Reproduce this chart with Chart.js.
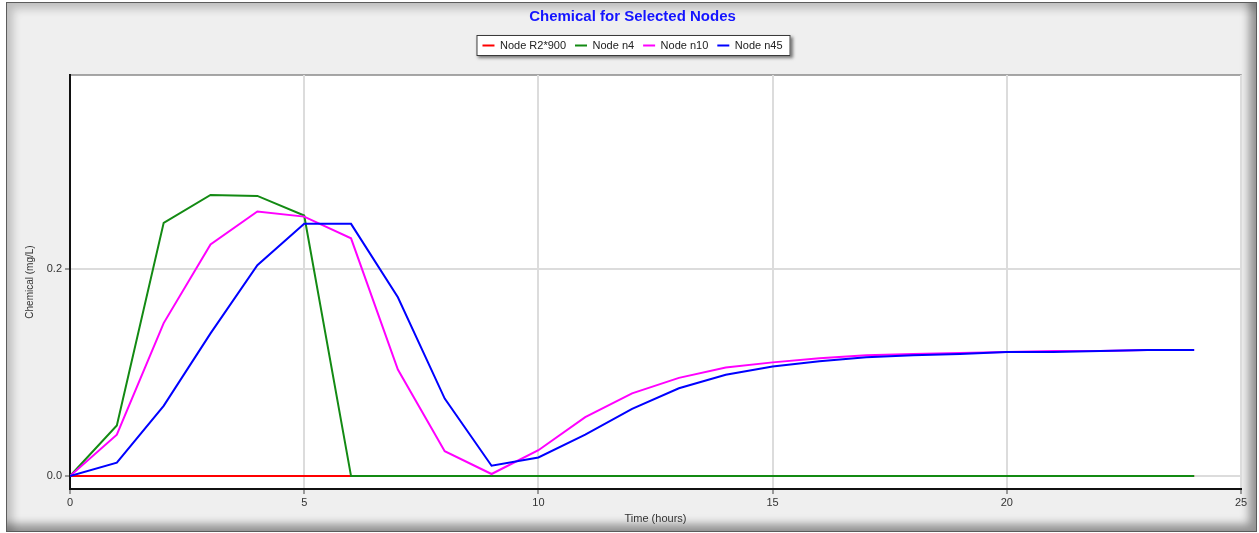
<!DOCTYPE html>
<html>
<head>
<meta charset="utf-8">
<title>Chemical for Selected Nodes</title>
<script src="https://cdn.jsdelivr.net/npm/chart.js@4.4.1/dist/chart.umd.min.js"></script>
<style>
  html, body { margin: 0; padding: 0; background: #fff; }
  #wrap { position: relative; width: 1259px; height: 533px; overflow: hidden; }
  #panel {
    position: absolute; left: 6px; top: 2px; width: 1249px; height: 528px;
    background: #efefef; border: 1px solid #5c5c5c;
    box-shadow: inset 6px 6px 8px rgba(0,0,0,0.20), inset -7px -7px 9px rgba(0,0,0,0.38);
  }
  canvas { position: absolute; left: 0; top: 0; }
</style>
</head>
<body>
<div id="wrap">
  <div id="panel"></div>
  <canvas id="myChart" width="1259" height="533"></canvas>
</div>
<script>
// hourly node concentrations (mg/L)
const hours = [0, 1, 2, 3, 4, 5, 6, 7, 8, 9, 10, 11, 12, 13, 14, 15, 16, 17, 18, 19, 20, 21, 22, 23, 24]
const nodeR2 = [0, 0, 0, 0, 0, 0, 0, 0, 0, 0, 0, 0, 0, 0, 0, 0, 0, 0, 0, 0, 0, 0, 0, 0, 0]
const nodeN4 = [0, 0.049, 0.245, 0.272, 0.271, 0.252, 0, 0, 0, 0, 0, 0, 0, 0, 0, 0, 0, 0, 0, 0, 0, 0, 0, 0, 0]
const nodeN10 = [0, 0.040, 0.148, 0.224, 0.256, 0.251, 0.230, 0.103, 0.024, 0.002, 0.025, 0.057, 0.080,
  0.095, 0.105, 0.110, 0.114, 0.117, 0.118, 0.119, 0.120, 0.121, 0.121, 0.122, 0.122]
const nodeN45 = [0, 0.013, 0.068, 0.138, 0.204, 0.244, 0.244, 0.173, 0.075, 0.010, 0.018, 0.040, 0.065,
  0.085, 0.098, 0.106, 0.111, 0.115, 0.117, 0.118, 0.120, 0.120, 0.121, 0.122, 0.122]

const seriesNames = ["Node R2*900", "Node n4", "Node n10", "Node n45"]
const seriesColors = ["#ff0000", "#138a13", "#ff00ff", "#0000ff"]
const xTicks = [0, 5, 10, 15, 20, 25]
const yTicks = [0, 0.2]

Chart.defaults.font.family = "'Liberation Sans', Arial, sans-serif"

const points = (vals) => vals.map((v, i) => ({ x: hours[i], y: v }))

const series = (i, vals) => ({
  label: seriesNames[i],
  data: points(vals),
  borderColor: seriesColors[i],
  backgroundColor: seriesColors[i],
  pointBorderColor: seriesColors[i],
  pointBackgroundColor: seriesColors[i],
  pointBorderWidth: 2,
  order: 4 - i // later series sit on top
})

// white legend box with a drop shadow, and the white plot area
const frames = {
  id: "frames",
  beforeDraw(chart) {
    const ctx = chart.ctx
    const a = chart.chartArea
    ctx.save()
    ctx.fillStyle = "#fff"
    ctx.fillRect(a.left, a.top, a.right - a.left, a.bottom - a.top)
    ctx.strokeStyle = "#8a8a8a"
    ctx.lineWidth = 1.5
    ctx.strokeRect(a.left, a.top, a.right - a.left, a.bottom - a.top)

    const hb = chart.legend.legendHitBoxes
    if (hb && hb.length) {
      const last = hb[hb.length - 1]
      const x0 = hb[0].left - 6
      const x1 = last.left + last.width + 8
      const mid = hb[0].top + hb[0].height / 2
      const y0 = mid - 10.5
      ctx.shadowColor = "rgba(0,0,0,0.5)"
      ctx.shadowOffsetX = 2
      ctx.shadowOffsetY = 2
      ctx.shadowBlur = 3
      ctx.fillStyle = "#fff"
      ctx.fillRect(x0, y0, x1 - x0, 21)
      ctx.shadowColor = "transparent"
      ctx.strokeStyle = "#3a3a3a"
      ctx.lineWidth = 1
      ctx.strokeRect(x0 + 0.5, y0 + 0.5, x1 - x0 - 1, 20)
    }
    ctx.restore()
  }
}

const ctx = document.getElementById("myChart")

new Chart(ctx, {
  type: "line",
  data: {
    datasets: [
      series(0, nodeR2),
      series(1, nodeN4),
      series(2, nodeN10),
      series(3, nodeN45)
    ]
  },
  options: {
    responsive: false,
    animation: false,
    layout: { padding: { left: 24, right: 18, top: 0, bottom: 0 } },
    elements: {
      line: { borderWidth: 2, tension: 0 },
      point: { radius: 0 }
    },
    scales: {
      x: {
        type: "linear",
        min: 0,
        max: 25,
        afterBuildTicks: (s) => { s.ticks = xTicks.map((v) => ({ value: v })) },
        afterFit: (s) => { s.height = 44 },
        ticks: { color: "#333", font: { size: 11 }, padding: 2, maxRotation: 0, autoSkip: false },
        grid: { color: "#dcdcdc", lineWidth: 2, tickLength: 5, tickColor: "#999" },
        border: { color: "#111", width: 2 },
        title: { display: true, text: "Time (hours)", color: "#333", font: { size: 11 }, padding: { top: 0, bottom: 7 } }
      },
      y: {
        min: -0.0125,
        max: 0.388,
        afterBuildTicks: (s) => { s.ticks = yTicks.map((v) => ({ value: v })) },
        afterFit: (s) => { s.width = 46 },
        ticks: { color: "#333", font: { size: 11 }, padding: 3, callback: (v) => v.toFixed(1) },
        grid: { color: "#dcdcdc", lineWidth: 2, tickLength: 5, tickColor: "#999" },
        border: { color: "#111", width: 2 },
        title: { display: true, text: "Chemical (mg/L)", color: "#333", font: { size: 10 }, padding: { top: 0, bottom: 0 } }
      }
    },
    plugins: {
      title: {
        display: true,
        text: "Chemical for Selected Nodes",
        color: "#1414ff",
        font: { size: 15, weight: "bold" },
        padding: { top: 8, bottom: 5 }
      },
      legend: {
        display: true,
        labels: {
          usePointStyle: true,
          pointStyle: "line",
          pointStyleWidth: 12,
          color: "#222",
          font: { size: 11 },
          padding: 9,
          sort: (a, b) => a.datasetIndex - b.datasetIndex
        }
      },
      // empty spacer between the legend and the plot
      subtitle: {
        display: true,
        text: "",
        weight: 900,
        font: { size: 10 },
        padding: { top: 0, bottom: 2 }
      },
      tooltip: { enabled: false }
    }
  },
  plugins: [frames]
})
</script>
</body>
</html>
